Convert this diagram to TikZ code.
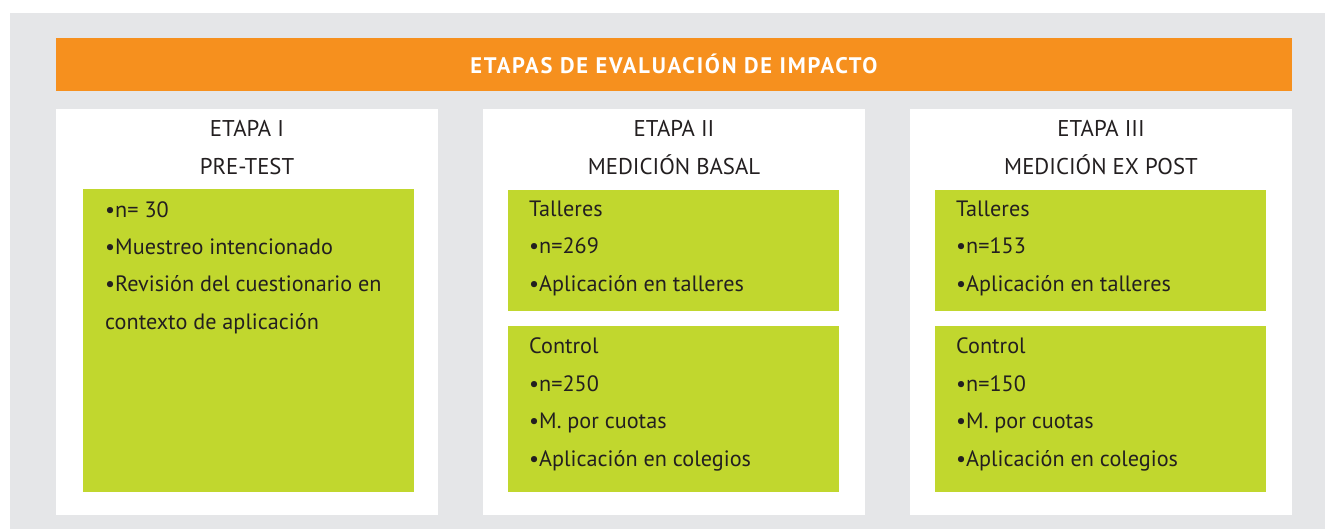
\documentclass[tikz,border=0pt]{standalone}
\usepackage{fontspec}
\setmainfont{PT Sans}[Numbers=OldStyle]
\definecolor{bg}{HTML}{E5E6E8}
\definecolor{orng}{HTML}{F6901E}
\definecolor{grn}{HTML}{C1D72E}
\definecolor{ink}{HTML}{231F20}
\begin{document}
\begin{tikzpicture}[x=1pt,y=-1pt,
  head/.style={anchor=base,inner sep=0pt,text=ink,font=\fontsize{22.8}{26}\selectfont},
  line/.style={anchor=base west,inner sep=0pt,text=ink,font=\fontsize{22.2}{25}\selectfont},
  ttl/.style={anchor=base,inner sep=0pt,text=white,font=\fontsize{22.5}{25}\selectfont\bfseries\addfontfeature{LetterSpace=8}}]
\useasboundingbox (0,0) rectangle (1325,529);
\fill[bg] (10,13) rectangle (1325,529);
\fill[orng] (56,38) rectangle (1292,91);
\node[ttl] (title) at (674,74) {ETAPAS DE EVALUACIÓN DE IMPACTO};
% panels
\fill[white] (56,109) rectangle (438,515);
\fill[white] (483,109) rectangle (865,515);
\fill[white] (910,109) rectangle (1292,515);
% green boxes
\fill[grn] (83,189) rectangle (414,492);
\fill[grn] (508,190) rectangle (839,311);
\fill[grn] (508,326) rectangle (839,492);
\fill[grn] (935,190) rectangle (1266,311);
\fill[grn] (935,326) rectangle (1266,492);
% headings
\node[head] (h1a) at (247,137) {ETAPA I};
\node[head] (h1b) at (247,175) {PRE-TEST};
\node[head] (h2a) at (674,137) {ETAPA II};
\node[head] (h2b) at (674,175) {MEDICIÓN BASAL};
\node[head] (h3a) at (1101,137) {ETAPA III};
\node[head] (h3b) at (1101,175) {MEDICIÓN EX POST};
% panel 1
\node[line] (p1a) at (105,218) {•n= 30};
\node[line] (p1b) at (105,255) {•Muestreo intencionado};
\node[line] (p1c) at (105,292) {•Revisión del cuestionario en};
\node[line] (p1d) at (105,329) {contexto de aplicación};
% panel 2
\node[line] (p2a) at (529,217) {Talleres};
\node[line] (p2b) at (529,254) {•n=269};
\node[line] (p2c) at (529,291) {•Aplicación en talleres};
\node[line] (p2d) at (529,353) {Control};
\node[line] (p2e) at (529,391) {•n=250};
\node[line] (p2f) at (529,428) {•M. por cuotas};
\node[line] (p2g) at (529,466) {•Aplicación en colegios};
% panel 3
\node[line] (p3a) at (956,217) {Talleres};
\node[line] (p3b) at (956,254) {•n=153};
\node[line] (p3c) at (956,291) {•Aplicación en talleres};
\node[line] (p3d) at (956,353) {Control};
\node[line] (p3e) at (956,391) {•n=150};
\node[line] (p3f) at (956,428) {•M. por cuotas};
\node[line] (p3g) at (956,466) {•Aplicación en colegios};
\end{tikzpicture}
\end{document}
